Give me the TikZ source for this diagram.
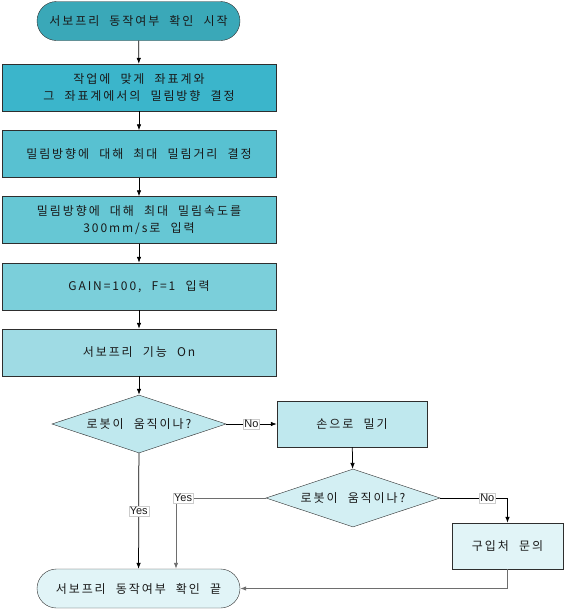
\documentclass[tikz,border=0pt]{standalone}
\usepackage{fontspec}
\setmainfont{Noto Sans CJK KR}[LetterSpace=16, WordSpace=2.2]
\newfontfamily\labelfont{Liberation Sans}
\usetikzlibrary{shapes.geometric,arrows.meta}

\definecolor{startfill}{HTML}{3AA8B8}
\definecolor{stepA}{HTML}{3BB5CB}
\definecolor{stepB}{HTML}{58C1D1}
\definecolor{stepC}{HTML}{66C7D4}
\definecolor{stepD}{HTML}{7BCFDA}
\definecolor{stepE}{HTML}{9FDBE4}
\definecolor{askA}{HTML}{BFE8EE}
\definecolor{askB}{HTML}{D3EFF3}
\definecolor{endfill}{HTML}{E1F4F7}
\definecolor{edge}{HTML}{2E2E2E}
\definecolor{greyline}{HTML}{6E6E6E}

\begin{document}
\begin{tikzpicture}[
    x=1pt, y=-1pt,
    every node/.style={font=\fontsize{12}{17}\selectfont, text=black!90},
    terminal/.style={draw=edge, rounded corners=19.5pt, minimum width=203pt, minimum height=39pt, inner sep=0pt},
    process/.style={draw=edge, rectangle, minimum width=274pt, minimum height=47pt, inner sep=0pt, align=center},
    smallbox/.style={draw=edge, rectangle, minimum width=150pt, minimum height=46pt, inner sep=0pt},
    decision/.style={draw=edge, diamond, aspect=3, minimum width=174pt, minimum height=58pt, inner sep=0pt},
    flow/.style={-{Latex[length=6pt,width=4.5pt]}, line width=0.75pt, draw=black},
    greyflow/.style={flow, line width=0.9pt, draw=greyline},
    tag/.style={fill=white, draw=black!20, line width=0.3pt, inner sep=1pt, font=\labelfont\fontsize{11}{12}\selectfont}
]
    \useasboundingbox (0,0) rectangle (569,611);

    % Main column
    \def\mainX{139}
    \node[terminal, fill=startfill] (start) at (138.5, 21) {서보프리 동작여부 확인 시작};
    \node[process, fill=stepA] (frame) at (\mainX, 87.5) {작업에 맞게 좌표계와\\그 좌표계에서의 밀림방향 결정};
    \node[process, fill=stepB] (dist) at (\mainX, 154) {밀림방향에 대해 최대 밀림거리 결정};
    \node[process, fill=stepC] (speed) at (\mainX, 220) {밀림방향에 대해 최대 밀림속도를\\300mm/s로 입력};
    \node[process, fill=stepD] (gain) at (\mainX, 286.5) {GAIN=100, F=1 입력};
    \node[process, fill=stepE] (servo) at (\mainX, 352.5) {서보프리 기능 On};
    \node[decision, fill=askA] (moveA) at (\mainX, 424) {로봇이 움직이나?};
    \node[terminal, fill=endfill] (finish) at (138.5, 588.5) {서보프리 동작여부 확인 끝};

    % Right branch
    \node[smallbox, fill=askA] (push) at (352, 424) {손으로 밀기};
    \node[decision, fill=askB] (moveB) at (353, 498) {로봇이 움직이나?};
    \node[smallbox, fill=endfill, minimum width=111pt] (vendor) at (507.5, 546) {구입처 문의};
    \coordinate (yesturn) at (176, 498);

    % Straight connectors down the main column
    \draw[flow] (start) -- (frame);
    \draw[flow] (frame) -- (dist);
    \draw[flow] (dist) -- (speed);
    \draw[flow] (speed) -- (gain);
    \draw[flow] (gain) -- (servo);
    \draw[flow] (servo) -- (moveA);
    \draw[flow] (moveA) -- node[tag] {Yes} (finish);

    % Branches
    \draw[flow] (moveA) -- node[tag] {No} (push);
    \draw[flow] (push) -- (moveB);
    \draw[flow] (moveB.east) -| node[tag, pos=0.35] {No} (vendor.north);
    \draw[greyflow] (moveB.west) -- (yesturn) node[tag, anchor=west, xshift=-3pt] {Yes} -- (yesturn |- finish.north);
    \draw[greyflow] (vendor.south) |- (finish.east);

\end{tikzpicture}
\end{document}
